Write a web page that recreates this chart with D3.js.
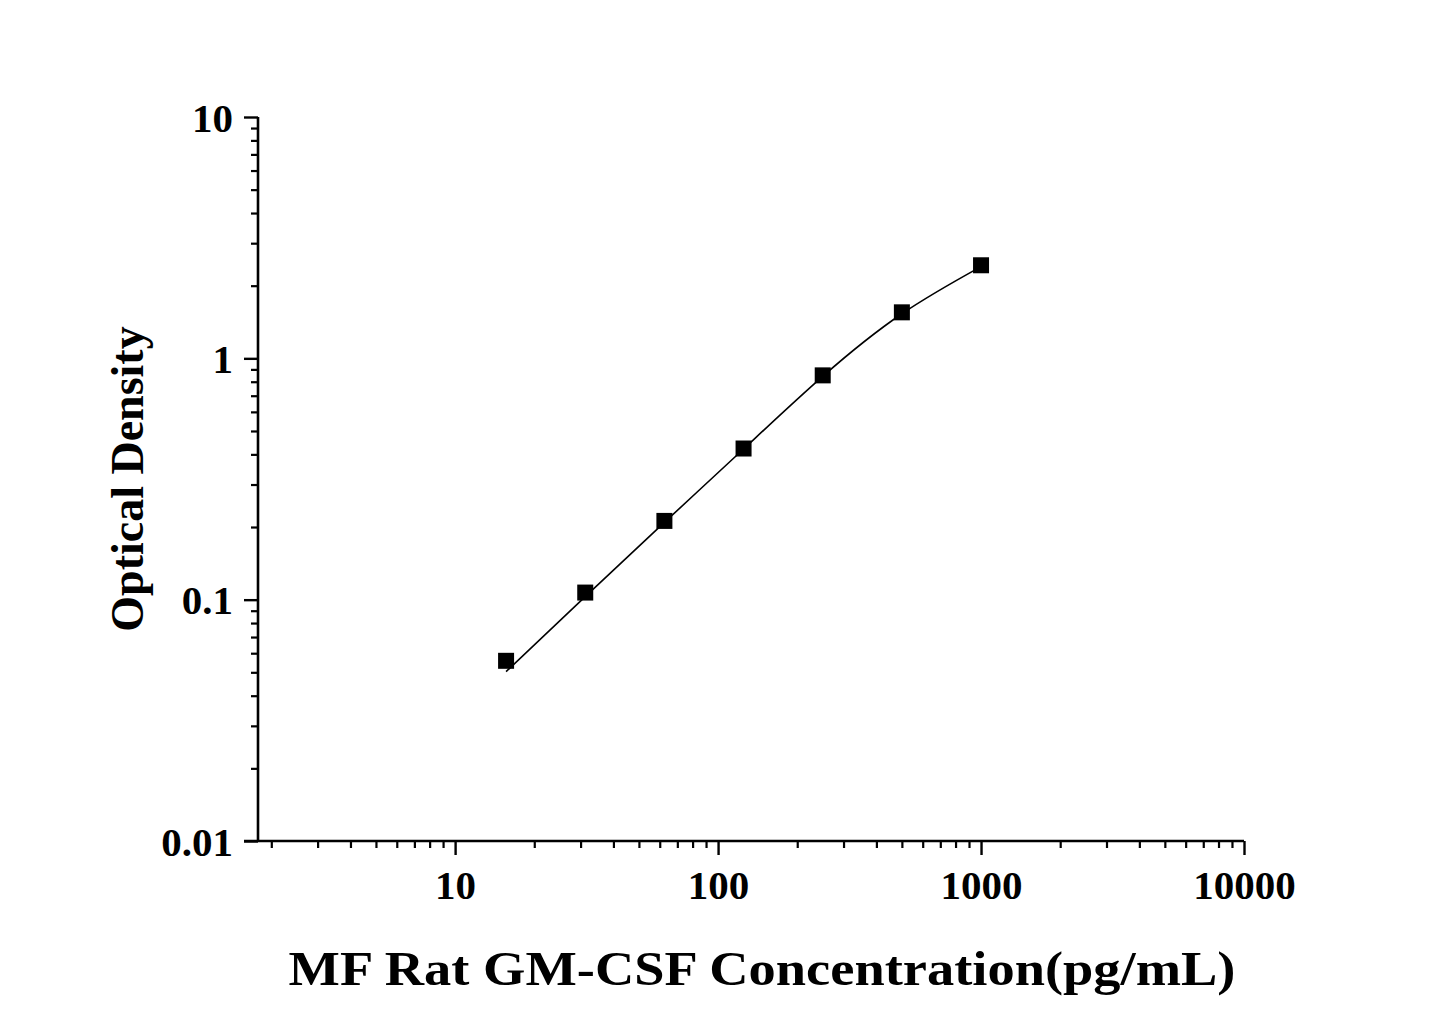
<!DOCTYPE html>
<html><head><meta charset="utf-8">
<script src="https://cdn.jsdelivr.net/npm/d3@7"></script>
<style>
html,body{margin:0;padding:0;background:#fff;}
svg{display:block;}
text{font-family:"Liberation Serif","Times New Roman",serif;font-weight:bold;fill:#000;}
</style></head>
<body>
<svg id="chart" width="1445" height="1009"></svg>
<script>
// Data
const concentrations = [15.625, 31.25, 62.5, 125, 250, 500, 1000];
const opticalDensity = [0.0558, 0.107, 0.212, 0.423, 0.850, 1.551, 2.43];
// fitted curve
const fitConc = [15.625, 31.25, 62.5, 125, 250, 500, 1000];
const fitOD = [0.0503, 0.103, 0.209, 0.421, 0.842, 1.53, 2.40];
const xTickValues = [10, 100, 1000, 10000];
const xTickLabels = ["10", "100", "1000", "10000"];
const yTickValues = [0.01, 0.1, 1, 10];
const yTickLabels = ["0.01", "0.1", "1", "10"];
const xTitle = "MF Rat GM-CSF Concentration(pg/mL)";
const yTitle = "Optical Density";

(function(){
const svg = d3.select("#chart");
const pL = 258, pR = 1244, pT = 117, pB = 841;

const x = d3.scaleLog().domain([1.78, 10000]).range([pL, pR]);
const y = d3.scaleLog().domain([0.01, 10]).range([pB, pT]);

function minorTicks(domain) {
  const out = [];
  for (let e = -3; e <= 5; e++) {
    for (let m = 2; m <= 9; m++) {
      const v = m * Math.pow(10, e);
      if (v >= domain[0] && v <= domain[1]) out.push(v);
    }
  }
  return out;
}
const serif = '"Liberation Serif","Times New Roman",serif';

// X axis
const xAxis = svg.append("g").attr("transform", `translate(0,${pB})`)
  .call(d3.axisBottom(x).tickValues(xTickValues).tickFormat((d,i)=>xTickLabels[i]).tickSize(14).tickSizeOuter(0));
xAxis.select(".domain").attr("stroke-width", 2.6).attr("d", `M${pL-14},0H${pR}`);
xAxis.selectAll(".tick line").attr("stroke-width", 2.4);
xAxis.selectAll(".tick text").attr("y", 58).attr("dy", 0).style("font-size", "41px")
  .style("font-family", serif).style("font-weight", "bold");
const xMinor = svg.append("g").attr("transform", `translate(0,${pB})`)
  .call(d3.axisBottom(x).tickValues(minorTicks(x.domain())).tickFormat("").tickSize(7).tickSizeOuter(0));
xMinor.select(".domain").remove();
xMinor.selectAll(".tick line").attr("stroke-width", 2.2);

// Y axis
const yAxis = svg.append("g").attr("transform", `translate(${pL},0)`)
  .call(d3.axisLeft(y).tickValues(yTickValues).tickFormat((d,i)=>yTickLabels[i]).tickSize(14).tickSizeOuter(0));
yAxis.select(".domain").attr("stroke-width", 2.6).attr("d", `M0,${pB+1}V${pT}`);
yAxis.selectAll(".tick line").attr("stroke-width", 2.4);
yAxis.selectAll(".tick text").attr("x", -25).attr("dy", 14).style("font-size", "41px")
  .style("font-family", serif).style("font-weight", "bold");
const yMinor = svg.append("g").attr("transform", `translate(${pL},0)`)
  .call(d3.axisLeft(y).tickValues(minorTicks(y.domain())).tickFormat("").tickSize(7).tickSizeOuter(0));
yMinor.select(".domain").remove();
yMinor.selectAll(".tick line").attr("stroke-width", 2.2);

// Fitted curve
const fitData = fitConc.map((c,i)=>[c, fitOD[i]]);
svg.append("path").datum(fitData)
  .attr("fill", "none").attr("stroke", "#000").attr("stroke-width", 1.6)
  .attr("d", d3.line().x(d=>x(d[0])).y(d=>y(d[1])).curve(d3.curveNatural));

// Points
const pts = concentrations.map((c,i)=>[c, opticalDensity[i]]);
const s = 16;
svg.append("g").selectAll("rect").data(pts).join("rect")
  .attr("x", d=>x(d[0]) - s/2).attr("y", d=>y(d[1]) - s/2)
  .attr("width", s).attr("height", s).attr("fill", "#000");

// Titles
const xt = svg.append("text").attr("text-anchor", "middle")
  .style("font-size", "48px").text(xTitle);
const len = xt.node().getComputedTextLength();
const sx = len > 0 ? 947 / len : 1;
xt.attr("transform", `translate(762,985) scale(${sx},1)`);
svg.append("text").attr("transform", `translate(143,${(pT+pB)/2}) rotate(-90)`)
  .attr("text-anchor", "middle").style("font-size", "46px").text(yTitle);
})();
</script>
</body></html>
